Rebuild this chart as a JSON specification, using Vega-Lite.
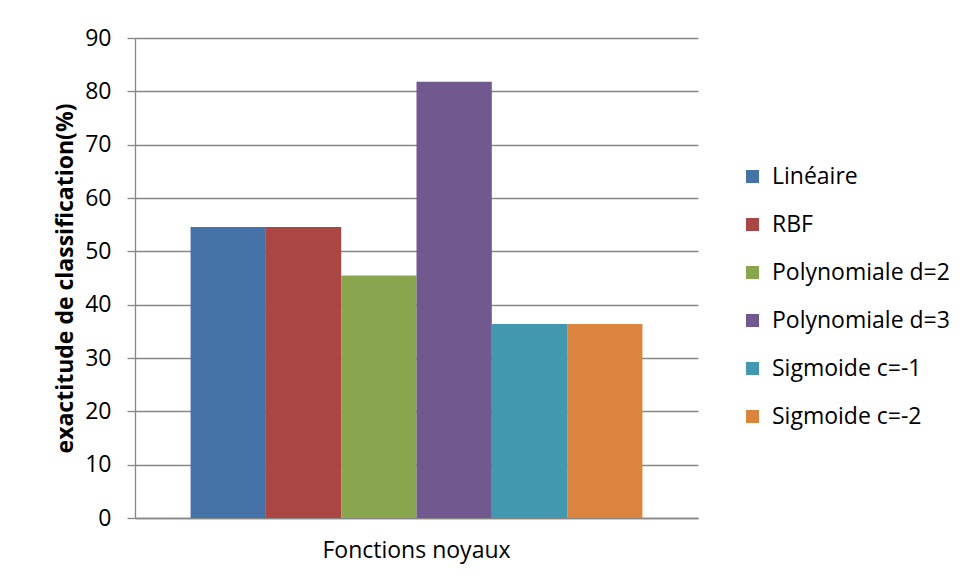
{
  "$schema": "https://vega.github.io/schema/vega-lite/v6.json",
  "width": 563,
  "height": 480,
  "autosize": {"type": "none"},
  "padding": {"left": 135, "top": 38, "right": 262, "bottom": 62},
  "background": "white",
  "data": {
    "values": [
      {"groupe": "Fonctions noyaux", "noyau": "Linéaire", "exactitude": 54.55},
      {"groupe": "Fonctions noyaux", "noyau": "RBF", "exactitude": 54.55},
      {"groupe": "Fonctions noyaux", "noyau": "Polynomiale d=2", "exactitude": 45.45},
      {"groupe": "Fonctions noyaux", "noyau": "Polynomiale d=3", "exactitude": 81.82},
      {"groupe": "Fonctions noyaux", "noyau": "Sigmoide c=-1", "exactitude": 36.36},
      {"groupe": "Fonctions noyaux", "noyau": "Sigmoide c=-2", "exactitude": 36.36}
    ]
  },
  "mark": {"type": "bar"},
  "encoding": {
    "x": {
      "field": "groupe",
      "type": "nominal",
      "scale": {"paddingInner": 0, "paddingOuter": 0.123},
      "axis": {
        "title": null,
        "labelAngle": 0,
        "labelLimit": 0,
        "ticks": false,
        "labelPadding": 21,
        "labelFontSize": 23,
        "labelColor": "#000000",
        "domainColor": "#868686",
        "domainWidth": 1.3
      }
    },
    "xOffset": {
      "field": "noyau",
      "type": "nominal",
      "sort": ["Linéaire", "RBF", "Polynomiale d=2", "Polynomiale d=3", "Sigmoide c=-1", "Sigmoide c=-2"],
      "scale": {"paddingInner": 0, "paddingOuter": 0}
    },
    "y": {
      "field": "exactitude",
      "type": "quantitative",
      "scale": {"domain": [0, 90], "nice": false},
      "axis": {
        "values": [0, 10, 20, 30, 40, 50, 60, 70, 80, 90],
        "title": "exactitude de classification(%)",
        "titleFontSize": 23,
        "titleFontWeight": "bold",
        "titleColor": "#000000",
        "titlePadding": 7,
        "labelFontSize": 23,
        "labelColor": "#000000",
        "labelPadding": 16,
        "tickSize": 8,
        "tickColor": "#868686",
        "tickWidth": 1.3,
        "domainColor": "#868686",
        "domainWidth": 1.3,
        "gridColor": "#868686",
        "gridWidth": 1.3
      }
    },
    "color": {
      "field": "noyau",
      "type": "nominal",
      "scale": {
        "domain": ["Linéaire", "RBF", "Polynomiale d=2", "Polynomiale d=3", "Sigmoide c=-1", "Sigmoide c=-2"],
        "range": ["#4572A7", "#AA4643", "#89A54E", "#71588F", "#4198AF", "#DB843D"]
      },
      "legend": {
        "title": null,
        "orient": "none",
        "legendX": 606,
        "legendY": 127,
        "padding": 0,
        "symbolType": "square",
        "symbolSize": 169,
        "symbolStrokeWidth": 0,
        "labelFontSize": 23,
        "labelLimit": 0,
        "labelColor": "#000000",
        "labelOffset": 8,
        "rowPadding": 24
      }
    }
  },
  "config": {
    "font": "Open Sans",
    "view": {"stroke": null}
  }
}
